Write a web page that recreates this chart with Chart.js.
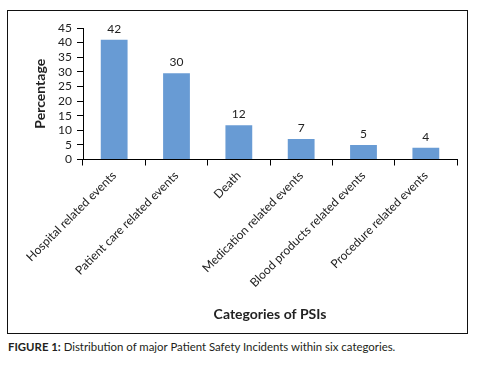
<!DOCTYPE html>
<html lang="en">
<head>
  <meta charset="UTF-8" />
  <title>Patient Safety Incidents</title>
  <script src="https://cdn.jsdelivr.net/npm/chart.js"></script>
  <style>
    body {
      margin: 0;
      width: 478px;
      height: 369px;
      background: #fff;
      font-family: Lato, sans-serif;
      position: relative;
      overflow: hidden;
    }

    .frame {
      position: absolute;
      left: 7px;
      top: 10px;
      width: 459px;
      height: 322px;
      border: 1px solid #111;
    }

    .frame canvas {
      display: block;
    }

    .caption {
      position: absolute;
      left: 8px;
      top: 340px;
      font-size: 11.4px;
      color: #231f20;
      white-space: nowrap;
    }

    .caption b {
      font-weight: 700;
    }
  </style>
</head>
<body>

  <div class="frame">
    <canvas id="psiChart" width="459" height="322"></canvas>
  </div>
  <div class="caption"><b>FIGURE 1:</b> Distribution of major Patient Safety Incidents within six categories.</div>

  <script>
    const categories = [
      'Hospital related events',
      'Patient care related events',
      'Death',
      'Medication related events',
      'Blood products related events',
      'Procedure related events'
    ];
    // bar heights as drawn, and the numbers printed above them
    const barValues = [41, 29.5, 11.7, 7, 5, 4];
    const barLabels = ['42', '30', '12', '7', '5', '4'];
    const yTicks = [0, 5, 10, 15, 20, 25, 30, 35, 40, 45];

    // simple inline value labels (no datalabels plugin offline)
    const valueLabels = {
      id: 'valueLabels',
      afterDatasetsDraw(chart) {
        const ctx = chart.ctx;
        const meta = chart.getDatasetMeta(0);
        ctx.save();
        ctx.font = '12px Lato';
        ctx.fillStyle = '#222';
        ctx.textAlign = 'center';
        ctx.textBaseline = 'middle';
        meta.data.forEach((bar, i) => {
          ctx.fillText(barLabels[i], bar.x, bar.y - 11);
        });
        ctx.restore();
      }
    };

    new Chart(document.getElementById('psiChart'), {
      type: 'bar',
      data: {
        labels: categories,
        datasets: [{
          data: barValues,
          backgroundColor: '#689bd4',
          borderWidth: 0,
          categoryPercentage: 1,
          barPercentage: 0.43
        }]
      },
      options: {
        responsive: false,
        animation: false,
        devicePixelRatio: 1,
        layout: { padding: { top: 17, right: 10, left: 0, bottom: 0 } },
        plugins: {
          legend: { display: false },
          tooltip: { enabled: false }
        },
        scales: {
          x: {
            afterFit: (scale) => { scale.height = 173.5; },
            grid: { drawOnChartArea: false, color: '#000', tickLength: 6 },
            border: { color: '#000', width: 1 },
            ticks: {
              autoSkip: false,
              minRotation: 45,
              maxRotation: 45,
              padding: 3,
              color: '#222',
              font: { family: 'Lato', size: 12 }
            },
            title: {
              display: true,
              text: 'Categories of PSIs',
              color: '#222',
              font: { family: 'Lato', size: 14, weight: 'bold' },
              padding: { top: 0, bottom: 10 }
            }
          },
          y: {
            min: 0,
            max: 45,
            afterFit: (scale) => { scale.width = 75; },
            afterBuildTicks: (scale) => { scale.ticks = yTicks.map(v => ({ value: v })); },
            grid: { drawOnChartArea: false, color: '#000', tickLength: 6 },
            border: { color: '#000', width: 1 },
            ticks: {
              autoSkip: false,
              padding: 5,
              color: '#222',
              font: { family: 'Lato', size: 12 }
            },
            title: {
              display: true,
              text: 'Percentage',
              color: '#222',
              font: { family: 'Lato', size: 14, weight: 'bold' },
              padding: { top: 24, bottom: 0 }
            }
          }
        }
      },
      plugins: [valueLabels]
    });
  </script>
</body>
</html>
